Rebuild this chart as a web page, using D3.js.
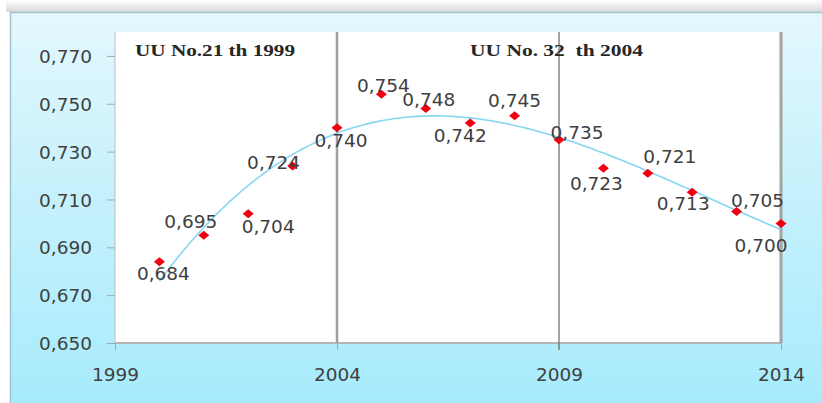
<!DOCTYPE html>
<html><head><meta charset="utf-8">
<script src="https://cdn.jsdelivr.net/npm/d3@7"></script>
<style>html,body{margin:0;padding:0;background:#fff;}svg{display:block;}</style>
</head><body>
<svg id="c" width="822" height="403"></svg>
<script>
// ---- data ----
const years = [2000,2001,2002,2003,2004,2005,2006,2007,2008,2009,2010,2011,2012,2013,2014];
const values = [0.684,0.695,0.704,0.724,0.740,0.754,0.748,0.742,0.745,0.735,0.723,0.721,0.713,0.705,0.700];
const xTicks = [1999,2004,2009,2014];
const yTicks = [0.650,0.670,0.690,0.710,0.730,0.750,0.770];
const markerYears = [2004,2009];
const notes = ["UU No.21 th 1999","UU No. 32  th 2004"];
// label placement (layout only): [dx, dy] from point
const labelOffsets = [[4,18],[-13,-7],[20,19],[-19,3],[4,19],[2,-2],[3,-3],[-10,19],[0,-9],[18,-1],[-7,22],[22,-10],[-9,18],[21,-4],[-20,29]];

const svg = d3.select("#c");
const defs = svg.append("defs");
const g1 = defs.append("linearGradient").attr("id","bg").attr("x1",0).attr("y1",0).attr("x2",0).attr("y2",1);
g1.append("stop").attr("offset","0%").attr("stop-color","#e4f8fe");
g1.append("stop").attr("offset","45%").attr("stop-color","#c6f1fc");
g1.append("stop").attr("offset","100%").attr("stop-color","#a6ebfc");
const g2 = defs.append("linearGradient").attr("id","sh").attr("x1",0).attr("y1",0).attr("x2",0).attr("y2",1);
g2.append("stop").attr("offset","0%").attr("stop-color","#ffffff");
g2.append("stop").attr("offset","100%").attr("stop-color","#d8d8d8");

// shadow & panel
svg.append("rect").attr("x",6).attr("y",0).attr("width",816).attr("height",12).attr("fill","url(#sh)");
svg.append("rect").attr("x",10.5).attr("y",12.5).attr("width",820).attr("height",400)
  .attr("fill","url(#bg)").attr("stroke","#9fc3cc").attr("stroke-width",1.5);

const x = d3.scaleLinear().domain([1999,2014]).range([115,781]);
const y = d3.scaleLinear().domain([0.65,0.78]).range([343,32]);

// plot area
svg.append("rect").attr("x",x(1999)).attr("y",y(0.78)).attr("width",x(2014)-x(1999)).attr("height",y(0.65)-y(0.78)).attr("fill","#fff");
svg.append("line").attr("x1",x(1999)).attr("x2",x(1999)).attr("y1",y(0.78)).attr("y2",y(0.65)).attr("stroke","#bdbdbd").attr("stroke-width",1);
svg.append("line").attr("x1",x(1999)).attr("x2",x(2014)).attr("y1",y(0.65)).attr("y2",y(0.65)).attr("stroke","#b4b4b4").attr("stroke-width",2);
svg.append("line").attr("x1",x(2014)).attr("x2",x(2014)).attr("y1",y(0.78)).attr("y2",y(0.65)).attr("stroke","#a4a4a4").attr("stroke-width",3);

// axes
const fmt = v => d3.format(".3f")(v).replace(".",",");
const yAxis = svg.append("g").attr("transform",`translate(${x(1999)},0)`)
  .call(d3.axisLeft(y).tickValues(yTicks).tickFormat(fmt).tickSize(8).tickPadding(15));
const xAxis = svg.append("g").attr("transform",`translate(0,${y(0.65)})`)
  .call(d3.axisBottom(x).tickValues(xTicks).tickFormat(d3.format("d")).tickSize(7).tickPadding(18));
[yAxis,xAxis].forEach(a=>{
  a.select(".domain").remove();
  a.selectAll(".tick line").attr("stroke","#a8a8a8");
  a.selectAll(".tick text").attr("fill","#404040").style("font-family","DejaVu Sans, Verdana, sans-serif").style("font-size","18.5px");
});
yAxis.selectAll(".tick text").attr("dy","0.36em");

// vertical marker lines
svg.selectAll(".vl").data(markerYears).enter().append("line")
  .attr("x1",d=>x(d)).attr("x2",d=>x(d)).attr("y1",y(0.78)).attr("y2",(d,i)=>i===0?y(0.65):y(0.65)+7)
  .attr("stroke",(d,i)=>i===0?"#a0a0a0":"#858585").attr("stroke-width",(d,i)=>i===0?2.5:1.5);

// notes
svg.append("text").attr("x",135).attr("y",56).attr("textLength",160).attr("lengthAdjust","spacingAndGlyphs")
  .style("font-family","Liberation Serif, Times New Roman, serif").style("font-weight","bold").style("font-size","16.5px").attr("fill","#262626").text(notes[0]);
svg.append("text").attr("x",470).attr("y",56).attr("textLength",173).attr("lengthAdjust","spacingAndGlyphs").attr("xml:space","preserve")
  .style("font-family","Liberation Serif, Times New Roman, serif").style("font-weight","bold").style("font-size","16.5px").attr("fill","#262626").style("white-space","pre").text(notes[1]);

// cubic least-squares trendline derived from the data (like a spreadsheet trendline)
function polyfit(xs, ys, deg){
  const n = deg+1, A = Array.from({length:n},()=>new Array(n+1).fill(0));
  const m = d3.mean(xs);
  xs.forEach((xv,k)=>{ const u=xv-m; for(let i=0;i<n;i++){ for(let j=0;j<n;j++) A[i][j]+=Math.pow(u,i+j); A[i][n]+=Math.pow(u,i)*ys[k]; } });
  for(let i=0;i<n;i++){ let p=i; for(let r=i+1;r<n;r++) if(Math.abs(A[r][i])>Math.abs(A[p][i])) p=r; [A[i],A[p]]=[A[p],A[i]];
    for(let r=0;r<n;r++){ if(r===i) continue; const f=A[r][i]/A[i][i]; for(let c=i;c<=n;c++) A[r][c]-=f*A[i][c]; } }
  const coef = A.map((row,i)=>row[n]/row[i]);
  return xv => coef.reduce((s,c,i)=>s+c*Math.pow(xv-m,i),0);
}
const trend = polyfit(years, values, 3);
const tx = d3.range(0,141).map(i=>years[0]+i*(years[years.length-1]-years[0])/140);
svg.append("path").attr("d", d3.line().x(d=>x(d)).y(d=>y(trend(d)))(tx))
  .attr("fill","none").attr("stroke","#86d6f2").attr("stroke-width",1.6);

// markers
svg.selectAll(".pt").data(years).enter().append("path")
  .attr("d","M0,-4.5L5.5,0L0,4.5L-5.5,0Z")
  .attr("transform",(d,i)=>`translate(${x(d)},${y(values[i])})`)
  .attr("fill","#f00010");

// labels
svg.selectAll(".lb").data(years).enter().append("text")
  .attr("x",(d,i)=>x(d)+labelOffsets[i][0]).attr("y",(d,i)=>y(values[i])+labelOffsets[i][1])
  .attr("text-anchor","middle").attr("fill","#404040")
  .style("font-family","DejaVu Sans, Verdana, sans-serif").style("font-size","18.5px")
  .text((d,i)=>fmt(values[i]));
</script>
</body></html>
